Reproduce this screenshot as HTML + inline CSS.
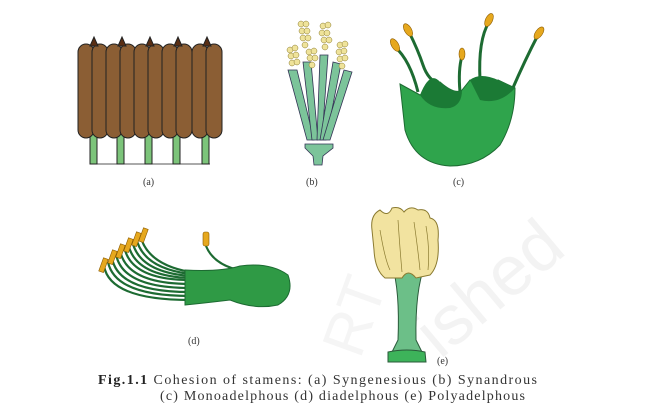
<!DOCTYPE html>
<html><head><meta charset="utf-8"><style>
body{margin:0;background:#fff;width:649px;height:410px;overflow:hidden}
svg{display:block}
text{font-family:"Liberation Serif",serif;fill:#333}
</style></head><body>
<svg width="649" height="410" viewBox="0 0 649 410">
<text x="440" y="360" transform="rotate(-40 440 360)" style="font-family:'Liberation Sans',sans-serif;font-size:70px;fill:#f3f3f3">ished</text>
<text x="360" y="360" transform="rotate(-70 360 360)" style="font-family:'Liberation Sans',sans-serif;font-size:60px;fill:#f5f5f5">RT</text>

<!-- (a) -->
<g stroke="#222" stroke-width="1">
<line x1="94" y1="164" x2="210" y2="164" stroke="#555"/>
<g fill="#7cc47a">
<rect x="90" y="132" width="7" height="32"/><rect x="117" y="132" width="7" height="32"/><rect x="145" y="132" width="7" height="32"/><rect x="173" y="132" width="7" height="32"/><rect x="202" y="132" width="7" height="32"/>
</g>
<g fill="#8b5e34">
<rect x="78" y="44" width="16" height="94" rx="8"/><rect x="92" y="44" width="16" height="94" rx="8"/>
<rect x="106" y="44" width="16" height="94" rx="8"/><rect x="120" y="44" width="16" height="94" rx="8"/>
<rect x="134" y="44" width="16" height="94" rx="8"/><rect x="148" y="44" width="16" height="94" rx="8"/>
<rect x="162" y="44" width="16" height="94" rx="8"/><rect x="176" y="44" width="16" height="94" rx="8"/>
<rect x="192" y="44" width="16" height="94" rx="8"/><rect x="206" y="44" width="16" height="94" rx="8"/>
</g>
<g fill="#5a2e14">
<path d="M90 46 L94 37 L98 46Z"/><path d="M118 46 L122 37 L126 46Z"/><path d="M146 46 L150 37 L154 46Z"/><path d="M174 46 L178 37 L182 46Z"/><path d="M203 46 L207 37 L211 46Z"/>
</g>
</g>
<text x="143" y="185" font-size="10">(a)</text>

<!-- (b) -->
<g stroke="#335" stroke-width="0.8" fill="#7cc49a">
<path d="M288 70 L297 70 L314 140 L307 140Z"/>
<path d="M303 62 L311 62 L318 140 L312 140Z"/>
<path d="M320 55 L328 55 L322 140 L317 140Z"/>
<path d="M333 62 L341 64 L326 140 L320 140Z"/>
<path d="M344 70 L352 72 L330 140 L323 140Z"/>
<path d="M305 144 L333 144 L333 148 L323 156 L322 165 L314 165 L313 156 L305 148Z"/>
</g>
<g fill="#efe39a" stroke="#8a7a30" stroke-width="0.5">
<circle cx="290" cy="50" r="3"/><circle cx="295" cy="48" r="3"/><circle cx="291" cy="56" r="3"/><circle cx="296" cy="55" r="3"/><circle cx="292" cy="63" r="3"/><circle cx="297" cy="62" r="3"/>
<circle cx="301" cy="24" r="3"/><circle cx="306" cy="24" r="3"/><circle cx="302" cy="31" r="3"/><circle cx="307" cy="31" r="3"/><circle cx="303" cy="38" r="3"/><circle cx="308" cy="38" r="3"/><circle cx="305" cy="45" r="3"/>
<circle cx="309" cy="52" r="3"/><circle cx="314" cy="51" r="3"/><circle cx="310" cy="58" r="3"/><circle cx="315" cy="58" r="3"/><circle cx="312" cy="65" r="3"/>
<circle cx="323" cy="26" r="3"/><circle cx="328" cy="25" r="3"/><circle cx="322" cy="33" r="3"/><circle cx="327" cy="33" r="3"/><circle cx="324" cy="40" r="3"/><circle cx="329" cy="40" r="3"/><circle cx="325" cy="47" r="3"/>
<circle cx="340" cy="45" r="3"/><circle cx="345" cy="44" r="3"/><circle cx="339" cy="52" r="3"/><circle cx="344" cy="51" r="3"/><circle cx="340" cy="59" r="3"/><circle cx="345" cy="58" r="3"/><circle cx="342" cy="66" r="3"/>
</g>
<text x="306" y="185" font-size="10">(b)</text>

<!-- (c) -->
<g stroke="#1d6b32" stroke-width="3" fill="none">
<path d="M395 47 Q410 60 418 92"/>
<path d="M409 32 Q418 50 423 65 Q428 80 440 85"/>
<path d="M462 56 Q458 70 460 92"/>
<path d="M489 22 Q478 40 480 80"/>
<path d="M538 35 Q525 60 512 90"/>
</g>
<path d="M400 84 L420 95 L440 82 Q455 95 462 90 L470 80 Q480 92 498 80 L515 88 Q515 120 500 145 Q480 166 450 166 Q415 164 405 130 Z" fill="#2fa44c" stroke="#1d6b32"/>
<path d="M420 95 Q430 70 440 82 Q455 95 462 90 Q462 105 450 108 Q430 110 420 95Z M470 80 Q480 72 498 80 L515 88 Q500 105 480 100Z" fill="#1b7a35"/>
<g fill="#e6a81e" stroke="#8a5a00" stroke-width="0.6">
<ellipse cx="395" cy="45" rx="3.5" ry="7" transform="rotate(-30 395 45)"/>
<ellipse cx="408" cy="30" rx="3.5" ry="7" transform="rotate(-30 408 30)"/>
<ellipse cx="462" cy="54" rx="3" ry="6"/>
<ellipse cx="489" cy="20" rx="3.5" ry="7" transform="rotate(25 489 20)"/>
<ellipse cx="539" cy="33" rx="3.5" ry="7" transform="rotate(35 539 33)"/>
</g>
<text x="453" y="185" font-size="10">(c)</text>

<!-- (d) -->
<g stroke="#1d6b32" stroke-width="2.2" fill="none">
<path d="M104 266 Q110 300 190 300"/>
<path d="M108 262 Q115 296 190 296"/>
<path d="M112 258 Q118 292 190 292"/>
<path d="M116 254 Q122 288 190 288"/>
<path d="M120 250 Q126 284 190 284"/>
<path d="M124 246 Q130 280 190 280"/>
<path d="M128 243 Q134 276 190 278"/>
<path d="M132 240 Q138 272 190 276"/>
<path d="M136 237 Q142 268 190 274"/>
<path d="M140 234 Q146 264 190 272"/>
<path d="M206 246 Q215 268 250 272"/>
</g>
<path d="M185 270 Q220 272 240 266 Q270 262 288 275 Q295 295 278 305 Q255 310 230 300 Q205 303 185 305Z" fill="#2f9a45" stroke="#1d6b32"/>
<g fill="#e6a81e" stroke="#8a5a00" stroke-width="0.6">
<rect x="101" y="258" width="5" height="14" transform="rotate(20 103 265)"/>
<rect x="110" y="250" width="5" height="14" transform="rotate(20 112 257)"/>
<rect x="118" y="244" width="5" height="14" transform="rotate(20 120 251)"/>
<rect x="126" y="238" width="5" height="14" transform="rotate(20 128 245)"/>
<rect x="134" y="232" width="5" height="14" transform="rotate(20 136 239)"/>
<rect x="141" y="228" width="5" height="14" transform="rotate(20 143 235)"/>
<rect x="203" y="232" width="6" height="14" rx="2"/>
</g>
<text x="188" y="344" font-size="10">(d)</text>

<!-- (e) -->
<path d="M392 265 L425 265 Q415 290 416 340 L422 352 L392 352 L398 340 Q400 290 392 265Z" fill="#6cbf88" stroke="#2a5a3a"/>
<path d="M388 352 Q407 348 425 352 L426 362 L388 362Z" fill="#3db35a" stroke="#2a5a3a"/>
<path d="M372 230 Q370 215 380 210 Q388 218 392 208 Q400 206 404 212 Q410 205 418 210 Q428 208 430 218 Q440 220 438 240 Q440 265 430 275 L416 278 Q408 268 402 278 L385 278 Q375 270 374 250Z" fill="#f2e3a0" stroke="#8a7a30" stroke-width="1"/>
<path d="M380 230 Q385 260 390 270 M398 220 Q400 250 402 272 M414 222 Q418 250 420 270 M426 226 Q430 250 428 270" stroke="#8a7a30" fill="none" stroke-width="0.7"/>
<text x="437" y="364" font-size="10">(e)</text>

<!-- caption -->
<text x="98" y="384" font-size="14" fill="#222" textLength="439" lengthAdjust="spacing"><tspan font-weight="bold" fill="#222">Fig.1.1</tspan> Cohesion of stamens: (a) Syngenesious (b) Synandrous</text>
<text x="160" y="400" font-size="14" textLength="365" lengthAdjust="spacing">(c) Monoadelphous (d) diadelphous (e) Polyadelphous</text>
</svg>
</body></html>
